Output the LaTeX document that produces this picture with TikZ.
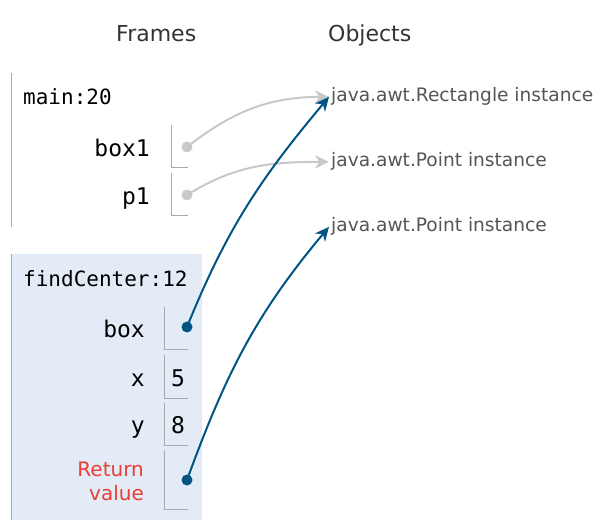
\documentclass[tikz,border=0pt]{standalone}
\usepackage{fontspec}
\setmainfont{DejaVu Sans}
\setmonofont{DejaVu Sans Mono}
\usepackage{tikz}
\usetikzlibrary{arrows.meta}
\definecolor{ptr}{RGB}{0, 85, 131}
\definecolor{light}{RGB}{200, 200, 200}
\definecolor{rule}{RGB}{170, 170, 170}
\definecolor{frameblue}{RGB}{226, 235, 246}
\definecolor{retred}{RGB}{233, 63, 52}
\definecolor{objtext}{RGB}{85, 85, 85}
\definecolor{head}{RGB}{51, 51, 51}

\begin{document}
\begin{tikzpicture}[
   x=1pt, y=-1pt,
   heading/.style={anchor=base west, inner sep=0, text=head,
                   font=\fontsize{22}{26}\selectfont},
   framename/.style={anchor=base west, inner sep=0,
                     font=\ttfamily\fontsize{21}{25}\selectfont},
   varname/.style={anchor=base east, inner sep=0,
                   font=\ttfamily\fontsize{23}{27}\selectfont},
   retname/.style={anchor=base east, inner sep=0, text=retred,
                   font=\fontsize{20}{24}\selectfont},
   primval/.style={anchor=base, inner sep=0,
                   font=\ttfamily\fontsize{23}{27}\selectfont},
   objlabel/.style={anchor=base west, inner sep=0, text=objtext,
                    font=\fontsize{18.6}{22}\selectfont},
   refdot/.style={circle, fill=#1, inner sep=0, minimum size=11pt},
   refline/.style={line width=2, -{Stealth[length=14pt, width=13pt, inset=4.5pt]}},
   slot/.style={draw=rule, line width=1}
  ]

  \useasboundingbox (0, 0) rectangle (613, 526);

  % Headings
  \node (frames) at (116, 42) [heading] { Frames };
  \node (objects) at (328, 42) [heading] { Objects };

  % main frame
  \draw[rule, line width=1] (11, 73) -- (11, 227);
  \node (main) at (23, 105) [framename] { main:20 };
  \node (box1) at (150, 157) [varname] { box1 };
  \node (p1) at (150, 205) [varname] { p1 };

  % findCenter frame
  \fill[frameblue] (11, 254) rectangle (202, 520);
  \draw[rule, line width=1] (11, 254) -- (11, 520);
  \node (find) at (23, 287) [framename] { findCenter:12 };
  \node (box) at (145, 338) [varname] { box };
  \node (x) at (145, 387) [varname] { x };
  \node (y) at (145, 433) [varname] { y };
  \node (ret1) at (144, 476) [retname] { Return };
  \node (ret2) at (144, 500) [retname] { value };
  \node (xval) at (178, 387) [primval] { 5 };
  \node (yval) at (178, 433) [primval] { 8 };

  \foreach \X/\T/\B in {171/125/168, 171/173/216, 164/307/350,
                        164/355/398, 164/403/445, 164/450/509} {
    \draw[slot] (\X, \T) |- (188, \B);
  }

  % Pointer dots
  \node (dbox1) at (187, 147) [refdot=light] {};
  \node (dp1) at (187, 195) [refdot=light] {};
  \node (dbox) at (187, 327) [refdot=ptr] {};
  \node (dret) at (187, 480) [refdot=ptr] {};

  % Objects
  \node (rect) at (331, 102) [objlabel] { java.awt.Rectangle instance };
  \node (pointa) at (331, 167) [objlabel] { java.awt.Point instance };
  \node (pointb) at (331, 232) [objlabel] { java.awt.Point instance };

  \draw[refline, light] (dbox1.center) to[out=38, in=180] ([xshift=-2pt]rect.west);
  \draw[refline, light] (dp1.center) to[out=32, in=180] ([xshift=-2pt]pointa.west);
  \draw[refline, ptr] (dbox.center) to[out=68, in=-130] ([xshift=-2pt]rect.west);
  \draw[refline, ptr] (dret.center) to[out=70, in=-130] ([xshift=-2pt]pointb.west);

\end{tikzpicture}
\end{document}
